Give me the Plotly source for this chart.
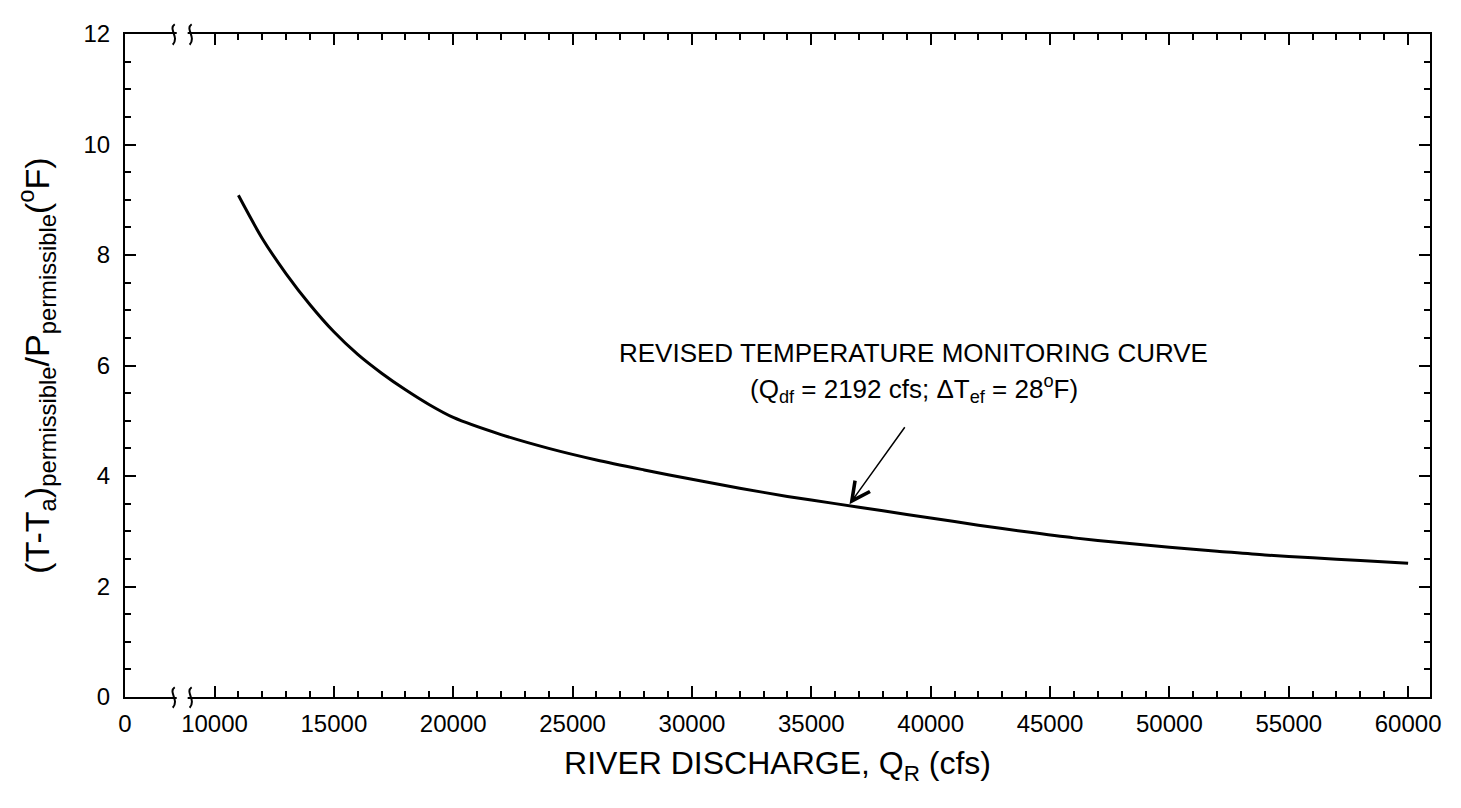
import plotly.graph_objects as go

# ---- data ----
discharge_cfs = [11000, 12000, 13000, 14000, 15000, 16000, 17000, 18000, 19000, 20000,
                 22000, 24000, 26000, 28000, 30000, 32000, 34000, 36000, 38000, 40000,
                 42000, 44000, 46000, 48000, 50000, 52000, 54000, 56000, 58000, 60000]
temp_ratio = [9.08, 8.30, 7.66, 7.10, 6.61, 6.20, 5.86, 5.56, 5.29, 5.06,
              4.75, 4.50, 4.29, 4.11, 3.94, 3.78, 3.63, 3.50, 3.37, 3.24,
              3.11, 2.99, 2.88, 2.79, 2.71, 2.64, 2.57, 2.52, 2.47, 2.42]

# broken x axis: the "0" label sits left of the break
x_zero_pos = 6250
x_major_vals = [x_zero_pos, 10000, 15000, 20000, 25000, 30000, 35000, 40000, 45000, 50000, 55000, 60000]
x_major_text = ["0", "10000", "15000", "20000", "25000", "30000", "35000", "40000", "45000", "50000", "55000", "60000"]
x_minor_vals = [v for v in range(11000, 60000, 1000) if v % 5000 != 0]
x_range = [x_zero_pos, 60917]
y_range = [0, 12]

FONT = "Liberation Sans, Arial, Helvetica, sans-serif"

fig = go.Figure()
fig.add_trace(go.Scatter(x=discharge_cfs, y=temp_ratio, mode="lines",
                         line=dict(color="black", width=3, shape="spline", smoothing=0.8),
                         showlegend=False, hoverinfo="skip"))

# page offset (browser body margin) and plot-area geometry in page px
OFF = 8
L, R, T, B = 125, 1437, 20, 697
W, H = R - L, B - T
FIG_W, FIG_H = 1461 - 2 * OFF, 808 - 2 * OFF


def px2paper(px, py):
    return (px - L) / W, (B - py) / H


shapes = []
for axis_py in (B, T):
    # gap in the axis line
    x0, y0 = px2paper(177, axis_py + 4)
    x1, y1 = px2paper(188, axis_py - 4)
    shapes.append(dict(type="rect", xref="paper", yref="paper", x0=x0, x1=x1, y0=y0, y1=y1,
                       fillcolor="white", line=dict(width=0), layer="above"))
    for cx in (174, 191):
        pts = [(cx + 1, axis_py - 10), (cx - 6, axis_py - 5), (cx + 6, axis_py + 3), (cx - 1, axis_py + 11)]
        p = [px2paper(a, b) for a, b in pts]
        path = "M{:.5f},{:.5f} C{:.5f},{:.5f} {:.5f},{:.5f} {:.5f},{:.5f}".format(
            p[0][0], p[0][1], p[1][0], p[1][1], p[2][0], p[2][1], p[3][0], p[3][1])
        shapes.append(dict(type="path", xref="paper", yref="paper", path=path,
                           line=dict(color="black", width=2), layer="above"))

fig.update_layout(
    width=FIG_W, height=FIG_H,
    margin=dict(l=L - OFF, r=(OFF + FIG_W) - R, t=T - OFF, b=(OFF + FIG_H) - B),
    paper_bgcolor="white", plot_bgcolor="white",
    font=dict(family=FONT, color="black", size=24),
    shapes=shapes,
    xaxis=dict(
        range=x_range, tickmode="array", tickvals=x_major_vals, ticktext=x_major_text,
        ticks="inside", ticklen=11, tickwidth=1.5, tickcolor="black",
        showline=True, linecolor="black", linewidth=2, mirror="ticks",
        showgrid=False, zeroline=False, ticklabeloverflow="allow",
        tickfont=dict(size=24), ticklabelstandoff=4,
        minor=dict(tickmode="array", tickvals=x_minor_vals, ticks="inside", ticklen=6,
                   tickwidth=1.5, tickcolor="black", showgrid=False),
        title=dict(text="RIVER DISCHARGE, Q<sub>R</sub> (cfs)", font=dict(size=32), standoff=16),
    ),
    yaxis=dict(
        range=y_range, tickmode="linear", tick0=0, dtick=2,
        ticks="inside", ticklen=11, tickwidth=1.5, tickcolor="black",
        showline=True, linecolor="black", linewidth=2, mirror="ticks",
        showgrid=False, zeroline=False, ticklabeloverflow="allow",
        tickfont=dict(size=24), ticklabelstandoff=8,
        minor=dict(dtick=0.5, ticks="inside", ticklen=6, tickwidth=1.5, tickcolor="black",
                   showgrid=False),
        title=dict(text="(T-T<sub>a</sub>)<sub>permissible</sub>/P<sub>permissible</sub>(<sup>o</sup>F)",
                   font=dict(size=34), standoff=24),
    ),
)

# callout
fig.add_annotation(x=36600, y=3.49, ax=38960, ay=4.91, xref="x", yref="y", axref="x", ayref="y",
                   text="", showarrow=True, arrowhead=5, arrowsize=2.4, arrowwidth=1.5,
                   arrowcolor="black")
fig.add_annotation(x=39300, y=6.22, xref="x", yref="y", text="REVISED TEMPERATURE MONITORING CURVE",
                   showarrow=False, font=dict(size=26), xanchor="center", yanchor="middle")
fig.add_annotation(x=39300, y=5.58, xref="x", yref="y",
                   text="(Q<sub>df</sub> = 2192 cfs; \u0394T<sub>ef</sub> = 28<sup>o</sup>F)",
                   showarrow=False, font=dict(size=26), xanchor="center", yanchor="middle")

fig.write_html("out.html")
